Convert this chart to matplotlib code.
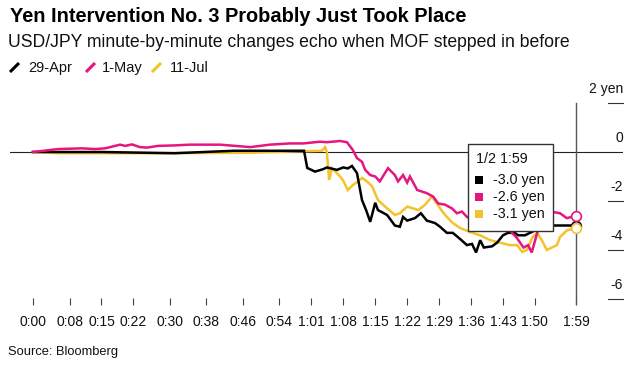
import matplotlib
matplotlib.use("Agg")
import matplotlib.pyplot as plt
from matplotlib.lines import Line2D
from matplotlib.patches import Rectangle

plt.rcParams['font.family'] = ['Liberation Sans', 'DejaVu Sans']

# ---------------- data ----------------
tick_minutes = [0, 8, 15, 22, 30, 38, 46, 54, 61, 68, 75, 82, 89, 96, 103, 110, 119]
tick_labels = ["0:00", "0:08", "0:15", "0:22", "0:30", "0:38", "0:46", "0:54", "1:01",
               "1:08", "1:15", "1:22", "1:29", "1:36", "1:43", "1:50", "1:59"]

y_values = [2, 0, -2, -4, -6]
y_labels = ["2 yen", "0", "-2", "-4", "-6"]

series_names = ["29-Apr", "1-May", "11-Jul"]
series_colors = ["#000000", "#e6157f", "#f4c22b"]

black_min = [0, 15, 31, 44, 58.5, 59.4, 60.1, 61.8, 63.6, 64.4, 66.6, 68, 69, 69.9, 71,
             72.1, 73, 73.9, 75, 75.6, 77.6, 79.3, 80.4, 81.1, 82, 83.7, 85, 86.3, 88.1, 89.2,
             90.7, 92, 93.6, 95.1, 96.2, 97.1, 98, 98.8, 100.6, 101.7, 103, 104.1, 105.6, 106.3,
             107.8, 110, 112.2, 114, 116.2, 119]
black_val = [0, 0, -0.05, 0.05, 0.05, 0.05, -0.65, -0.8, -0.7, -0.63, -0.73, -0.63, -0.67,
             -0.57, -0.86, -1.96, -2.37, -2.85, -2.07, -2.37, -2.57, -3.0, -3.05, -2.65, -2.8,
             -2.7, -2.5, -2.8, -2.9, -3.05, -3.3, -3.3, -3.55, -3.8, -3.75, -4.1, -3.6, -3.9,
             -3.85, -3.7, -3.4, -3.3, -3.3, -3.4, -3.4, -3.2, -3.1, -3.0, -3.0, -3.0]

pink_min = [0, 5.5, 10.7, 13.6, 15.8, 19.1, 20.2, 21.7, 23.4, 25, 27.4, 31.1, 34.4, 41, 47.6,
            51.9, 56.3, 59.2, 62.9, 64.4, 67.3, 68.8, 70.1, 71, 72.1, 72.8, 73.9, 75, 76, 77.8,
            79.3, 80, 81.1, 82, 82.6, 84.2, 86.3, 87.7, 88.8, 90.3, 91.8, 92.9, 94, 95.1, 98,
            102.3, 104.5, 106, 107.5, 108.5, 109.3, 110.5, 111.5, 113.3, 115.5, 117, 119]
pink_val = [0, 0.12, 0.15, 0.12, 0.15, 0.3, 0.25, 0.31, 0.2, 0.18, 0.25, 0.27, 0.3, 0.3, 0.2,
            0.3, 0.35, 0.35, 0.42, 0.4, 0.45, 0.4, 0.08, -0.25, -0.4, -0.73, -0.94, -1.0, -1.2,
            -0.66, -0.94, -1.2, -0.94, -1.25, -1.0, -1.55, -1.68, -1.82, -2.1, -2.15, -2.3, -2.5,
            -2.43, -2.65, -2.9, -3.1, -3.2, -3.5, -3.9, -3.8, -4.1, -3.3, -2.8, -2.43, -2.5,
            -2.7, -2.6]

yellow_min = [0, 5.9, 25.6, 47.6, 56.3, 63.3, 64, 64.4, 64.9, 65.5, 66.6, 67.3, 67.9, 69, 70.1,
              71.2, 72.1, 73.2, 74.3, 75.6, 77.6, 79.3, 80.4, 82, 83.3, 84.4, 85.9, 87.4, 88.5,
              89.6, 90.7, 92, 93.6, 95.8, 98, 100.2, 102.3, 104.5, 106.1, 107.2, 108.3, 109.4,
              110.5, 111.5, 112.6, 113.7, 114.8, 115.5, 117, 119]
yellow_val = [0, -0.05, -0.05, -0.03, 0.02, 0.05, 0.2, 0.0, -1.14, -0.66, -0.86, -1.0, -1.14,
              -1.55, -1.35, -1.2, -1.06, -1.2, -1.4, -1.96, -2.3, -2.57, -2.5, -2.23, -2.3,
              -2.37, -2.16, -1.82, -2.1, -2.4, -2.65, -2.9, -3.1, -3.27, -3.4, -3.6, -3.7, -3.8,
              -3.8, -4.08, -4.0, -3.5, -3.3, -3.6, -4.0, -3.9, -3.8, -3.47, -3.2, -3.1]

tooltip_header = "1/2 1:59"
tooltip_values = [-3.0, -2.6, -3.1]

# ---------------- figure ----------------
W, H = 640, 367
fig = plt.figure(figsize=(W / 100, H / 100), dpi=100)


def fx(x):
    return x / W


def fy(y):
    return 1 - y / H


ax = fig.add_axes([fx(10), fy(305), 613 / W, 210 / H])
ax.set_xlim(-5.04, 129.3)
ax.set_ylim(-6.245, 2.327)
for s in ax.spines.values():
    s.set_visible(False)

ax.set_xticks(tick_minutes)
ax.set_xticklabels(tick_labels, fontsize=10, color="#111")
ax.tick_params(axis="x", direction="in", length=5, width=0.8, color="#444", pad=7)
ax.set_yticks([])

# zero line
ax.axhline(0, color="#222", lw=0.8, zorder=1)

# right-side value labels and short ticks
ytr = ax.get_yaxis_transform()
for v, lab in zip(y_values, y_labels):
    ax.annotate(lab, xy=(1.0, v), xycoords=ytr, xytext=(0, 10), textcoords="offset points",
                ha="right", va="center", fontsize=10, color="#111")
    if v != 0:
        ax.plot([0.9755, 1.0], [v, v], transform=ytr, color="#333", lw=0.8, clip_on=False)

# vertical line at last minute
y0, y1 = ax.get_ylim()
ax.axvline(tick_minutes[-1], ymin=0, ymax=(y_values[0] - y0) / (y1 - y0), color="#555", lw=1,
           zorder=2)

# series
lw = 1.8
ax.plot(yellow_min, yellow_val, color=series_colors[2], lw=lw, zorder=3, solid_joinstyle="miter")
ax.plot(black_min, black_val, color=series_colors[0], lw=lw, zorder=4, solid_joinstyle="miter")
ax.plot(pink_min, pink_val, color=series_colors[1], lw=lw, zorder=5, solid_joinstyle="miter")

for xs, ys, c in [(black_min, black_val, series_colors[0]),
                  (yellow_min, yellow_val, series_colors[2]),
                  (pink_min, pink_val, series_colors[1])]:
    ax.plot(xs[-1], ys[-1], "o", mfc="white", mec=c, ms=7, mew=1.2, zorder=6, clip_on=False)

# ---------------- titles ----------------
fig.text(fx(10), fy(22), "Yen Intervention No. 3 Probably Just Took Place", fontsize=14.4,
         fontweight="bold", va="baseline", ha="left", color="#000")
fig.text(fx(8), fy(47), "USD/JPY minute-by-minute changes echo when MOF stepped in before",
         fontsize=12.7, va="baseline", ha="left", color="#111")

# legend
leg_slash_x = [10, 86, 152]
leg_text_x = [28, 102, 170]
for sx, tx, name, c in zip(leg_slash_x, leg_text_x, series_names, series_colors):
    fig.add_artist(Line2D([fx(sx), fx(sx + 9)], [fy(72), fy(63)], transform=fig.transFigure,
                          color=c, lw=2.2, solid_capstyle="butt"))
    fig.text(fx(tx), fy(72), name, fontsize=10.5, va="baseline", ha="left", color="#111")

# tooltip
fig.add_artist(Rectangle((fx(468), fy(231)), 85 / W, 87 / H, transform=fig.transFigure,
                         facecolor="white", edgecolor="#333", lw=1, zorder=20))
t = fig.text(fx(476), fy(159), tooltip_header, fontsize=10.3, va="center", ha="left",
             color="#111")
t.set_zorder(21)
row_y = [180, 197, 214]
for ry, val, c in zip(row_y, tooltip_values, series_colors):
    fig.add_artist(Rectangle((fx(475), fy(ry + 4)), 8 / W, 8 / H, transform=fig.transFigure,
                             facecolor=c, edgecolor="none", zorder=21))
    tt = fig.text(fx(493), fy(ry), f"{val:.1f} yen", fontsize=10.3, va="center", ha="left",
                  color="#111")
    tt.set_zorder(21)

# source
fig.text(fx(8), fy(355), "Source: Bloomberg", fontsize=9.3, va="baseline", ha="left",
         color="#111")

fig.savefig("out.png", dpi=100)
